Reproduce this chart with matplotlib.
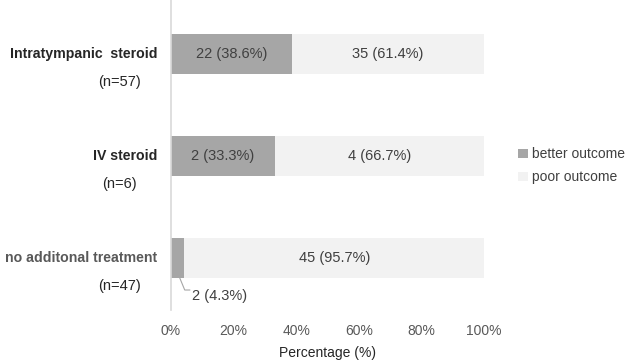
import matplotlib.pyplot as plt
import numpy as np

plt.rcParams['font.family'] = ['Liberation Sans', 'DejaVu Sans']

groups = ["Intratympanic  steroid", "IV steroid", "no additonal treatment"]
label_colors = ["#262626", "#262626", "#595959"]
ns = ["(n=57)", "(n=6)", "(n=47)"]
better_n = [22, 2, 2]
poor_n = [35, 4, 45]
better_pct = [38.6, 33.3, 4.3]
poor_pct = [61.4, 66.7, 95.7]

c_better = "#a6a6a6"
c_poor = "#f2f2f2"
txt = "#404040"

fig = plt.figure(figsize=(6.3, 3.63), dpi=100)
ax = fig.add_axes([0.2714, 0.146, 0.4968, 0.854])

y = np.arange(len(groups))
h = 0.39
ax.barh(y, better_pct, height=h, color=c_better, label="better outcome")
ax.barh(y, poor_pct, left=better_pct, height=h, color=c_poor, label="poor outcome")

for i in range(len(groups)):
    if better_pct[i] > 10:
        ax.text(better_pct[i] / 2, y[i], f"{better_n[i]} ({better_pct[i]}%)",
                ha="center", va="center", fontsize=10.5, color=txt)
    else:
        # small segment: leader line to a label under the bar
        x0 = better_pct[i] * 0.65
        yb = y[i] + h / 2
        yl = y[i] + 0.314
        ax.plot([x0, x0 + 1.6, x0 + 3.2], [yb, yl, yl], color="#a6a6a6",
                lw=0.8, clip_on=False)
        ax.text(x0 + 3.8, y[i] + 0.37, f"{better_n[i]} ({better_pct[i]}%)",
                ha="left", va="center", fontsize=10.5, color=txt)
    ax.text(better_pct[i] + poor_pct[i] / 2, y[i], f"{poor_n[i]} ({poor_pct[i]}%)",
            ha="center", va="center", fontsize=10.5, color=txt)
    # category labels
    ax.text(-4.3, y[i], groups[i], ha="right", va="center", fontsize=10.2,
            fontweight="bold", color=label_colors[i], clip_on=False)
    ax.text(-16.4, y[i] + 0.275, ns[i], ha="center", va="center", fontsize=10.5,
            color="#262626", clip_on=False)

ax.set_xlim(0, 100)
ax.set_ylim(2.51, -0.53)
ax.set_xticks([0, 20, 40, 60, 80, 100])
ax.set_xticklabels(["0%", "20%", "40%", "60%", "80%", "100%"])
ax.tick_params(axis="x", length=0, pad=10, labelsize=10, labelcolor="#595959")
ax.set_yticks([])
for s in ["top", "right", "bottom"]:
    ax.spines[s].set_visible(False)
ax.spines["left"].set_color("#d9d9d9")
ax.spines["left"].set_linewidth(1.2)
ax.set_xlabel("Percentage (%)", fontsize=10, color="#262626", labelpad=6)

ax.legend(loc="center left", bbox_to_anchor=(1.07, 0.465), frameon=False,
          fontsize=10, handlelength=0.7, handleheight=0.7, handletextpad=0.3,
          labelcolor="#404040", labelspacing=0.65)

fig.savefig("out.png", dpi=100)
